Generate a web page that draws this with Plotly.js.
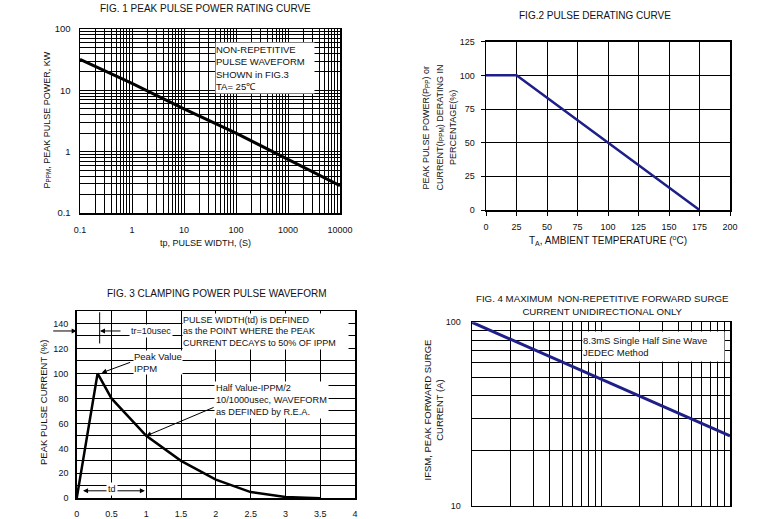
<!DOCTYPE html>
<html>
<head>
<meta charset="utf-8">
<script src="https://cdn.plot.ly/plotly-3.0.1.min.js"></script>
<style>html,body{margin:0;padding:0;background:#fff;}#chart{width:761px;height:519px;}</style>
</head>
<body>
<div id="chart"></div>
<script>
// ---------- DATA ----------
// Fig. 1  Peak pulse power rating curve (log-log)
const fig1PulseWidth = [0.1, 1, 10, 100, 1000, 10000];
const fig1PowerKW    = [32, 13, 5, 2, 0.75, 0.28];
const fig1XLabels    = ['0.1', '1', '10', '100', '1000', '10000'];
const fig1YLabels    = ['0.1', '1', '10', '100'];

// Fig. 2  Pulse derating curve
const fig2TempC      = [0, 25, 175];
const fig2Percent    = [100, 100, 0];

// Fig. 3  Clamping power pulse waveform
const fig3Time       = [0, 0.3, 0.5, 1, 1.5, 2, 2.5, 3, 3.5];
const fig3Current    = [0, 100, 80, 50, 30, 15, 5, 1, 0];

// Fig. 4  Max non-repetitive forward surge current (log-log)
const fig4Cycles     = [1, 10, 100];
const fig4SurgeA     = [100, 49, 24];
const fig4XLabels    = ['1', '10', '100'];
const fig4YLabels    = ['10', '100'];

// ---------- helpers ----------
const W = 761, H = 519;
const px = x => x / W;
const py = y => (H - y) / H;
function logGrid(lo, hi, labels) {
  const vals = [], txt = [];
  let k = 0;
  for (let e = lo; e < hi; e++) {
    for (let m = 1; m < 10; m++) {
      vals.push(m * Math.pow(10, e));
      txt.push(m === 1 ? labels[k++] : '');
    }
  }
  vals.push(Math.pow(10, hi));
  txt.push(labels[k]);
  return {vals, txt};
}
const FONT = 'Liberation Sans, Arial, Helvetica, sans-serif';
const INK = '#111';
const NAVY = '#1f1f8a';

const f1x = logGrid(-1, 4, fig1XLabels);
const f1y = logGrid(-1, 2, fig1YLabels);
const f4x = logGrid(0, 2, fig4XLabels);
const f4y = logGrid(1, 2, fig4YLabels);

const baseAxis = {
  showline: true, mirror: true, linecolor: '#000', linewidth: 1.5,
  showgrid: true, gridcolor: '#000', gridwidth: 1, zeroline: false,
  tickfont: {family: FONT, size: 9, color: INK}, fixedrange: true
};

const traces = [
  {x: fig1PulseWidth, y: fig1PowerKW, xaxis: 'x', yaxis: 'y', mode: 'lines',
   line: {color: '#000', width: 3}},
  {x: fig2TempC, y: fig2Percent, xaxis: 'x2', yaxis: 'y2', mode: 'lines',
   line: {color: NAVY, width: 2.5}},
  {x: fig3Time, y: fig3Current, xaxis: 'x3', yaxis: 'y3', mode: 'lines',
   line: {color: '#000', width: 2.5}},
  {x: fig4Cycles, y: fig4SurgeA, xaxis: 'x4', yaxis: 'y4', mode: 'lines',
   line: {color: NAVY, width: 3}}
];

const layout = {
  width: W, height: H, margin: {l: 0, r: 0, t: 0, b: 0},
  paper_bgcolor: '#fff', plot_bgcolor: '#fff', showlegend: false, hovermode: false,
  font: {family: FONT, size: 9, color: INK},
  // Fig 1
  xaxis: Object.assign({}, baseAxis, {domain: [px(80), px(340)], anchor: 'y', type: 'log', range: [-1, 4],
    tickmode: 'array', tickvals: f1x.vals, ticktext: f1x.txt, ticks: '', ticklabelstandoff: 8}),
  yaxis: Object.assign({}, baseAxis, {domain: [py(213), py(29)], anchor: 'x', type: 'log', range: [-1, 2],
    tickmode: 'array', tickvals: f1y.vals, ticktext: f1y.txt, ticks: '', ticklabelstandoff: 6,
    tickfont: {family: FONT, size: 9.5, color: INK}}),
  // Fig 2
  xaxis2: Object.assign({}, baseAxis, {domain: [px(486), px(730)], anchor: 'y2', range: [0, 200], dtick: 25, tick0: 0,
    ticks: 'outside', ticklen: 4, tickcolor: '#000', ticklabelstandoff: 4}),
  yaxis2: Object.assign({}, baseAxis, {domain: [py(210), py(41.7)], anchor: 'x2', range: [0, 125], dtick: 25, tick0: 0,
    ticks: 'outside', ticklen: 4, tickcolor: '#000', ticklabelstandoff: 4}),
  // Fig 3
  xaxis3: Object.assign({}, baseAxis, {domain: [px(76.7), px(355)], anchor: 'y3', range: [0, 4], dtick: 0.5, tick0: 0,
    ticks: '', ticklabelstandoff: 6}),
  yaxis3: Object.assign({}, baseAxis, {domain: [py(498.3), py(311)], anchor: 'x3', range: [0, 150], dtick: 20, tick0: 0,
    ticks: '', ticklabelstandoff: 5,
    minor: {dtick: 10, tick0: 0, showgrid: true, gridcolor: '#000', gridwidth: 1}}),
  // Fig 4
  xaxis4: Object.assign({}, baseAxis, {domain: [px(472), px(730)], anchor: 'y4', type: 'log', range: [0, 2],
    tickmode: 'array', tickvals: f4x.vals, ticktext: f4x.txt, ticks: '', ticklabelstandoff: 8}),
  yaxis4: Object.assign({}, baseAxis, {domain: [py(505.7), py(322.3)], anchor: 'x4', type: 'log', range: [1, 2],
    tickmode: 'array', tickvals: f4y.vals, ticktext: f4y.txt, ticks: '', ticklabelstandoff: 8}),
  shapes: [
    {type: 'line', xref: 'x3', yref: 'y3', x0: 0.33, x1: 0.33, y0: 124, y1: 149, line: {color: '#000', width: 1}}
  ],
  annotations: []
};

function txt(text, x, y, opts) {
  return Object.assign({text, xref: 'paper', yref: 'paper', x: px(x), y: py(y), showarrow: false,
    xanchor: 'center', yanchor: 'middle', font: {family: FONT, size: 9, color: INK}}, opts || {});
}
const A = layout.annotations;
// titles
A.push(txt('FIG. 1 PEAK PULSE POWER RATING CURVE', 205.5, 8, {font: {family: FONT, size: 10, color: INK}}));
A.push(txt('FIG.2 PULSE DERATING CURVE', 595, 15, {font: {family: FONT, size: 10, color: INK}}));
A.push(txt('FIG. 3 CLAMPING POWER PULSE WAVEFORM', 216, 293, {font: {family: FONT, size: 10, color: INK}}));
A.push(txt('FIG. 4 MAXIMUM \u00a0NON-REPETITIVE FORWARD SURGE<br>CURRENT UNIDIRECTIONAL ONLY', 602, 305.5,
  {font: {family: FONT, size: 9.7, color: INK}}));
// axis titles
A.push(txt('tp, PULSE WIDTH, (S)', 205, 243, {font: {family: FONT, size: 9, color: INK}}));
A.push(txt('P<sub>PPM</sub>, PEAK PULSE POWER, KW', 46.5, 120, {textangle: -90, font: {family: FONT, size: 9, color: INK}}));
A.push(txt('T<sub>A</sub>, AMBIENT TEMPERATURE (<sup>o</sup>C)', 607.5, 240.5, {font: {family: FONT, size: 10, color: INK}}));
A.push(txt('PEAK PULSE POWER(P<sub>PP</sub>) or', 425.5, 128, {textangle: -90}));
A.push(txt('CURRENT(I<sub>PPM</sub>) DERATING IN', 439.5, 128, {textangle: -90}));
A.push(txt('PERCENTAGE(%)', 453, 128, {textangle: -90}));
A.push(txt('PEAK PULSE CURRENT (%)', 43, 403, {textangle: -90, font: {family: FONT, size: 9.5, color: INK}}));
A.push(txt('IFSM, PEAK FORWARD SURGE<br>CURRENT (A)', 432.5, 410, {textangle: -90, font: {family: FONT, size: 9.5, color: INK}}));
// boxes
A.push(txt('NON-REPETITIVE<br>PULSE WAVEFORM<br>SHOWN in FIG.3<br>TA= 25\u2103', 215, 42,
  {xanchor: 'left', yanchor: 'top', align: 'left', width: 98, height: 50, bgcolor: '#fff', borderpad: 0,
   font: {family: FONT, size: 9.5, color: INK}}));
A.push(txt('8.3mS Single Half Sine Wave<br>JEDEC Method', 582, 331,
  {xanchor: 'left', yanchor: 'top', align: 'left', width: 141, height: 29, bgcolor: '#fff', borderpad: 0,
   font: {family: FONT, size: 9.5, color: INK}}));
// fig 3 arrows
const arr = {text: '', showarrow: true, arrowhead: 2, arrowsize: 1, arrowwidth: 1, arrowcolor: '#000', xref: 'x3', yref: 'y3'};
A.push(Object.assign({}, arr, {x: 0, y: 134, ax: -25, ay: 0}));
A.push(Object.assign({}, arr, {x: 0.335, y: 134, ax: 22, ay: 0}));
A.push(Object.assign({}, arr, {x: 0.36, y: 100.5, ax: 0.79, ay: 109.3, axref: 'x3', ayref: 'y3'}));
A.push(Object.assign({}, arr, {x: 1.0, y: 50, ax: 1.99, ay: 73.3, axref: 'x3', ayref: 'y3'}));
A.push(Object.assign({}, arr, {x: 0.98, y: 6, ax: 0.07, ay: 6, axref: 'x3', ayref: 'y3', arrowside: 'end+start'}));
// fig 3 texts
A.push(txt('PULSE WIDTH(td) is DEFINED<br>as the POINT WHERE the PEAK<br>CURRENT DECAYS to 50% OF IPPM', 182, 313,
  {xanchor: 'left', yanchor: 'top', align: 'left', width: 165, height: 35, bgcolor: '#fff', borderpad: 0}));
A.push(txt('tr=10usec', 151, 331, {bgcolor: '#fff', borderpad: 1}));
A.push(txt('Peak Value<br>IPPM', 133, 363, {xanchor: 'left', align: 'left', bgcolor: '#fff', borderpad: 0,
  font: {family: FONT, size: 9.5, color: INK}}));
A.push(txt('Half Value-IPPM/2<br>10/1000usec, WAVEFORM<br>as DEFINED by R.E.A.', 214, 400,
  {xanchor: 'left', align: 'left', bgcolor: '#fff', borderpad: 1, font: {family: FONT, size: 9.2, color: INK}}));
A.push(txt('td', 112, 489, {bgcolor: '#fff', borderpad: 1}));

Plotly.newPlot('chart', traces, layout, {staticPlot: true, displayModeBar: false});
</script>
</body>
</html>
